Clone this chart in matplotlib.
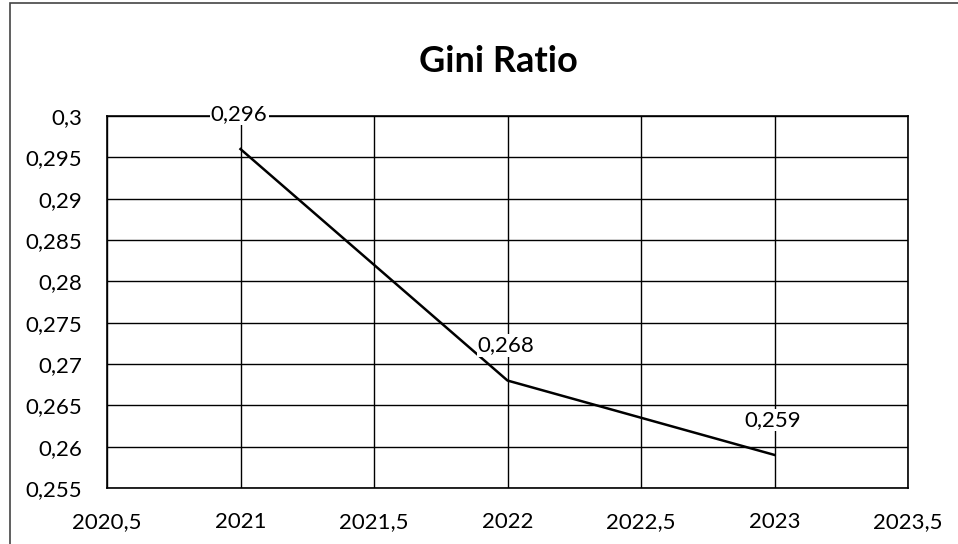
import matplotlib
matplotlib.use("Agg")
import matplotlib.pyplot as plt
from matplotlib.ticker import FuncFormatter, MultipleLocator
from matplotlib.patches import Rectangle

years = [2021, 2022, 2023]
gini = [0.296, 0.268, 0.259]
labels = ["0,296", "0,268", "0,259"]

plt.rcParams["font.family"] = ["Lato", "DejaVu Sans"]

fig = plt.figure(figsize=(9.58, 5.44), dpi=100)
W, H = 958, 544
ax = fig.add_axes([107 / W, 1 - 488 / H, (908 - 107) / W, (488 - 116) / H])

ax.plot(years, gini, color="black", lw=1.8, zorder=3)
for x, y, t in zip(years, gini, labels):
    ax.annotate(t, (x, y), xytext=(-1, 18), textcoords="offset points",
                ha="center", va="bottom", fontsize=16, zorder=4,
                bbox=dict(boxstyle="square,pad=0.05", fc="white", ec="none"))

ax.set_xlim(2020.5, 2023.5)
ax.set_ylim(0.255, 0.3)
ax.xaxis.set_major_locator(MultipleLocator(0.5))
ax.yaxis.set_major_locator(MultipleLocator(0.005))

def comma_fmt(v, pos):
    s = f"{v:.3f}".rstrip("0").rstrip(".")
    return s.replace(".", ",")

ax.xaxis.set_major_formatter(FuncFormatter(comma_fmt))
ax.yaxis.set_major_formatter(FuncFormatter(comma_fmt))
ax.grid(True, color="black", lw=1.0, zorder=0)
ax.tick_params(length=0, labelsize=16)
ax.tick_params(axis="x", pad=17)
ax.tick_params(axis="y", pad=18)
for s in ax.spines.values():
    s.set_color("black")
    s.set_linewidth(1.2)

fig.text(498 / W, 1 - 61 / H, "Gini Ratio", ha="center", va="center",
         fontsize=26, fontweight="bold")

# outer chart frame
fig.patches.append(Rectangle((10 / W, -0.1), 1.2, 1 - 3 / H + 0.1,
                             transform=fig.transFigure, fill=False,
                             ec="#444444", lw=1.2))

fig.savefig("out.png", dpi=100)
